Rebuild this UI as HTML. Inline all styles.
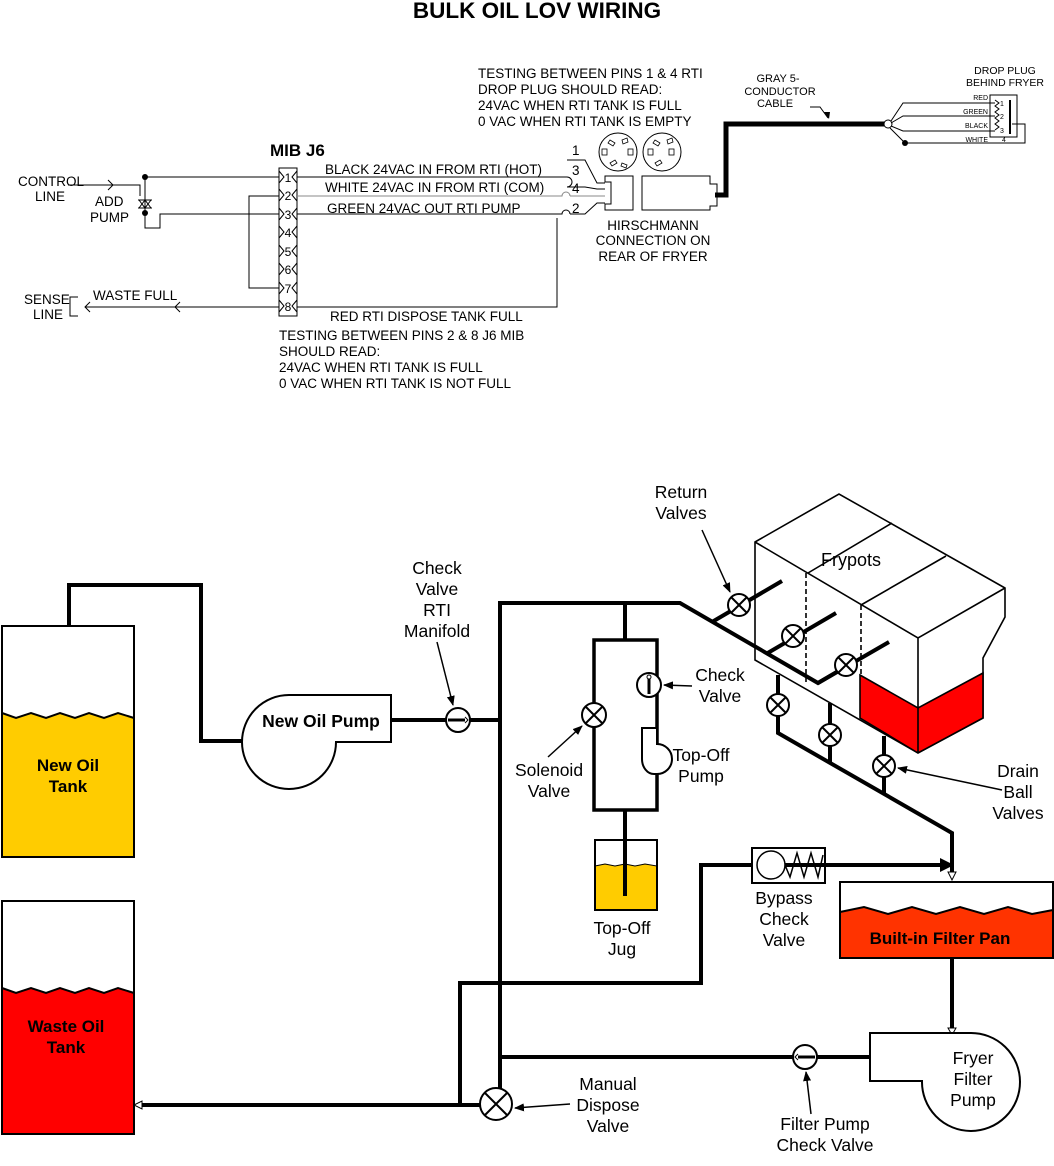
<!DOCTYPE html>
<html><head><meta charset="utf-8"><style>
html,body{margin:0;padding:0;background:#fff;}
svg{display:block;}
text{font-family:"Liberation Sans",Arial,sans-serif;fill:#000;}
.s{font-size:13.5px;}
.m{font-size:17.5px;}
.b{font-weight:bold;}
</style></head><body>
<svg width="1054" height="1166" viewBox="0 0 1054 1166" xmlns="http://www.w3.org/2000/svg">
<defs>
<marker id="ah" markerWidth="10" markerHeight="8" refX="9" refY="4" orient="auto" markerUnits="userSpaceOnUse" viewBox="0 0 10 8"><path d="M0,0 L10,4 L0,8 Z" fill="#000"/></marker>
</defs>
<text x="537" y="18" text-anchor="middle" class="b" font-size="22.5">BULK OIL LOV WIRING</text>

<g class="s">
<text x="478" y="78">TESTING BETWEEN PINS 1 &amp; 4 RTI</text>
<text x="478" y="94">DROP PLUG SHOULD READ:</text>
<text x="478" y="110">24VAC WHEN RTI TANK IS FULL</text>
<text x="478" y="126"> 0 VAC WHEN RTI TANK IS EMPTY</text>
<text x="279" y="340">TESTING BETWEEN PINS 2 &amp; 8 J6 MIB</text>
<text x="279" y="356">SHOULD READ:</text>
<text x="279" y="372">24VAC WHEN RTI TANK IS FULL</text>
<text x="279" y="388">0 VAC WHEN RTI TANK IS NOT FULL</text>
<text x="18" y="186">CONTROL</text><text x="35" y="201">LINE</text>
<text x="95" y="206">ADD</text><text x="90" y="222">PUMP</text>
<text x="24" y="304">SENSE</text><text x="33" y="319">LINE</text>
<text x="93" y="300">WASTE FULL</text>
<text x="325" y="174">BLACK  24VAC IN FROM RTI (HOT)</text>
<text x="325" y="192">WHITE  24VAC IN FROM RTI (COM)</text>
<text x="327" y="213">GREEN  24VAC OUT RTI PUMP</text>
<text x="330" y="321">RED  RTI DISPOSE TANK FULL</text>
<text x="653" y="230" text-anchor="middle">HIRSCHMANN</text>
<text x="653" y="245" text-anchor="middle">CONNECTION ON</text>
<text x="653" y="261" text-anchor="middle">REAR OF FRYER</text>
<text x="572" y="155">1</text><text x="572" y="175">3</text><text x="572" y="193">4</text><text x="572" y="213">2</text>
</g>
<text x="270" y="156" class="b" font-size="17">MIB J6</text>
<text x="778" y="82" font-size="11" text-anchor="middle">GRAY 5-</text>
<text x="780" y="95" font-size="11" text-anchor="middle">CONDUCTOR</text>
<text x="775" y="107" font-size="11" text-anchor="middle">CABLE</text>
<text x="1005" y="74" font-size="10.5" text-anchor="middle">DROP PLUG</text>
<text x="1005" y="86" font-size="10.5" text-anchor="middle">BEHIND FRYER</text>
<g font-size="7"><text x="988" y="100" text-anchor="end">RED</text><text x="988" y="114" text-anchor="end">GREEN</text><text x="988" y="128" text-anchor="end">BLACK</text><text x="988" y="142" text-anchor="end">WHITE</text><text x="1002" y="142">4</text></g>

<g fill="none" stroke="#000" stroke-width="1">
<rect x="279" y="168" width="18" height="148"/>
<path d="M279,171 l5,6 l-5,6 M279,189 l5,6 l-5,6 M279,208 l5,6 l-5,6 M279,226 l5,6 l-5,6 M279,245 l5,6 l-5,6 M279,263 l5,6 l-5,6 M279,282 l5,6 l-5,6 M279,300 l5,6 l-5,6"/>
<path d="M297,171 l-5,6 l5,6 M297,189 l-5,6 l5,6 M297,208 l-5,6 l5,6 M297,226 l-5,6 l5,6 M297,245 l-5,6 l5,6 M297,263 l-5,6 l5,6 M297,282 l-5,6 l5,6 M297,300 l-5,6 l5,6"/>
<g stroke="none" fill="#000"><text x="288" y="182" text-anchor="middle" font-size="12">1</text><text x="288" y="200" text-anchor="middle" font-size="12">2</text><text x="288" y="219" text-anchor="middle" font-size="12">3</text><text x="288" y="237" text-anchor="middle" font-size="12">4</text><text x="288" y="256" text-anchor="middle" font-size="12">5</text><text x="288" y="274" text-anchor="middle" font-size="12">6</text><text x="288" y="293" text-anchor="middle" font-size="12">7</text><text x="288" y="311" text-anchor="middle" font-size="12">8</text></g>
<path d="M145,177 H279"/>
<path d="M68,185 H140 V196"/>
<path d="M108,180 l5,5 l-5,5"/>
<path d="M145,177 V228 H160 V214 H279"/>
<path d="M138,200 h14 M138,208 h14 M139,200 l6,8 l6,-8 M139,208 l6,-8 l6,8"/>
<path d="M279,196 H249 V288 H279"/>
<path d="M85,307 H279 M90,302 l-5,5 l5,5 M180,302 l-5,5 l5,5"/>
<path d="M78,297 H70 V316 H78"/>
<path d="M297,177 H567"/>
<path d="M297,196 H562 a4,4 0 0 1 8,0" stroke="#888"/>
<path d="M297,214 H562 a4,4 0 0 1 8,0"/>
<path d="M297,307 H557 V218"/>
<path d="M567,160 H585 L597,183 H605"/>
<path d="M567,177 a5,5 0 0 1 0,10 M567,187 H585 L597,189 H605"/>
<path d="M570,196 H605" stroke="#888"/>
<path d="M570,214 H585 L597,203 H605"/>
<path d="M605,176 H633 V210 H605 V204 H611 V182 H605 Z"/>
<path d="M642,176 H710 V184 H717 V206 H710 V210 H642 Z"/>
<circle cx="618" cy="152" r="19"/><circle cx="662" cy="152" r="19"/>
<g stroke-width="0.8"><rect x="602" y="149" width="5" height="6"/><rect x="628" y="149" width="5" height="6"/><rect x="648" y="149" width="5" height="6"/><rect x="669" y="149" width="5" height="6"/>
<path d="M610,140 l5,3 l-2,3 l-5,-3z M622,140 l5,-2 l1,4 l-5,2z M610,163 l5,-3 l2,3 l-5,3z M622,163 l5,2 l-1,3 l-5,-2z M655,140 l5,3 l-2,3 l-5,-3z M667,140 l5,-2 l1,4 l-5,2z M655,163 l5,-3 l2,3 l-5,3z"/></g>
<path d="M715,195 H726 V124 H887" stroke-width="5"/>
<path d="M810,107 H820 L828,118"/>
<circle cx="888" cy="124" r="4" fill="#fff"/>
<path d="M891,121 L903,103 H995 M891,123 L903,116 H995 M891,126 L903,131 H995 M890,128 L905,143 H1025 V124 H1012"/>
<rect x="990" y="95" width="27" height="42"/>
<path d="M995,100 l4,3 l-4,3 l4,3 l-4,3 l4,3 l-4,3 l4,3 l-4,3 l4,3 l-4,3"/>
<path d="M1010,100 V134" stroke-width="2"/>
</g>
<g font-size="7"><text x="1000" y="106">1</text><text x="1000" y="119">2</text><text x="1000" y="133">3</text></g>
<circle cx="145" cy="177" r="3"/><circle cx="145" cy="213" r="3"/><circle cx="905" cy="143" r="3"/>
<path d="M824,112 l5,7 l1,-7z"/>

<rect x="2" y="626" width="132" height="231" fill="#fff"/>
<path d="M2,713 l14,5 l15,-5 l15,5 l14,-5 l15,5 l14,-5 l15,5 l14,-5 l16,5 V857 H2 Z" fill="#ffcc00"/>
<path d="M2,713 l14,5 l15,-5 l15,5 l14,-5 l15,5 l14,-5 l15,5 l14,-5 l16,5" fill="none" stroke="#000" stroke-width="2"/>
<rect x="2" y="626" width="132" height="231" fill="none" stroke="#000" stroke-width="2"/>
<text x="68" y="771" text-anchor="middle" class="b" font-size="17">New Oil</text>
<text x="68" y="792" text-anchor="middle" class="b" font-size="17">Tank</text>
<path d="M2,988 l14,5 l15,-5 l15,5 l14,-5 l15,5 l14,-5 l15,5 l14,-5 l16,5 V1134 H2 Z" fill="#ff0000"/>
<path d="M2,988 l14,5 l15,-5 l15,5 l14,-5 l15,5 l14,-5 l15,5 l14,-5 l16,5" fill="none" stroke="#000" stroke-width="2"/>
<rect x="2" y="901" width="132" height="233" fill="none" stroke="#000" stroke-width="2"/>
<text x="66" y="1032" text-anchor="middle" class="b" font-size="17">Waste Oil</text>
<text x="66" y="1053" text-anchor="middle" class="b" font-size="17">Tank</text>

<g stroke="#000" stroke-width="1.6" fill="#fff">
<path d="M755,542 L839,494 L1005,588 L1005,617 L983,658 L983,718 L918,753 L755,660 Z"/>
<path d="M860,675 L918,708 L983,673 L983,718 L918,753 L860,718 Z" fill="#ff0000"/>
<path d="M755,542 L918,638 L1005,588 M918,638 V753 M892,523 L808,573 M946,556 L861,605" fill="none"/>
<path d="M806,573 V684 M861,605 V675" fill="none" stroke-dasharray="5,3"/>
</g>
<text x="851" y="566" text-anchor="middle" font-size="18">Frypots</text>

<g fill="none" stroke="#000" stroke-width="4">
<path d="M69,626 V585 H201 V741 H242"/>
<path d="M391,720 H500"/>
<path d="M500,1090 V603 H680 L818,683 L852,663"/>
<path d="M712,622 L782,581 M766,654 L836,613 M818,683 L889,642"/>
<path d="M625,603 V640"/>
<rect x="594" y="640" width="63" height="170" stroke-width="3.5"/>
<path d="M625,810 V896"/>
<path d="M778,675 V733 L952,833 V872 M830,703 V763 M884,736 V795"/>
<path d="M460,1104 V983 H701 V865 H940"/>
<path d="M138,1105 H481"/>
<path d="M500,1057 H870"/>
<path d="M952,958 V1028"/>
</g>
<path d="M940,858 L954,865 L940,872 Z"/>
<path d="M948,872 h8 l-4,8z" fill="#fff" stroke="#000"/>
<path d="M948,1028 h8 l-4,7z" fill="#fff" stroke="#000"/>
<path d="M134,1105 l8,-4 v8z" fill="#fff" stroke="#000"/>

<path d="M391,695 L289,695 A47,47 0 1 0 336,742 L391,742 Z" fill="#fff" stroke="#000" stroke-width="2"/>
<text x="321" y="727" text-anchor="middle" class="b" font-size="17.5">New Oil Pump</text>
<circle cx="458" cy="720" r="12" fill="#fff" stroke="#000" stroke-width="2"/>
<path d="M448,720 H466" stroke="#000" stroke-width="3"/><path d="M465,717 l3,3 l-3,3" fill="#fff" stroke="#000"/>

<g fill="#fff" stroke="#000" stroke-width="2">
<g transform="translate(739,605)"><circle r="11"/><path d="M-8,-8 L8,8 M8,-8 L-8,8"/></g>
<g transform="translate(793,636)"><circle r="11"/><path d="M-8,-8 L8,8 M8,-8 L-8,8"/></g>
<g transform="translate(846,665)"><circle r="11"/><path d="M-8,-8 L8,8 M8,-8 L-8,8"/></g>
<g transform="translate(778,705)"><circle r="11"/><path d="M-8,-8 L8,8 M8,-8 L-8,8"/></g>
<g transform="translate(830,735)"><circle r="11"/><path d="M-8,-8 L8,8 M8,-8 L-8,8"/></g>
<g transform="translate(884,766)"><circle r="11"/><path d="M-8,-8 L8,8 M8,-8 L-8,8"/></g>
<g transform="translate(594,715)"><circle r="12"/><path d="M-8,-8 L8,8 M8,-8 L-8,8"/></g>
<g transform="translate(496,1104)"><circle r="16"/><path d="M-11,-11 L11,11 M11,-11 L-11,11"/></g>
</g>
<circle cx="649" cy="685" r="12" fill="#fff" stroke="#000" stroke-width="2"/>
<path d="M649,676 V694" stroke="#000" stroke-width="3"/><circle cx="649" cy="677" r="2" fill="#fff" stroke="#000"/>
<path d="M642,728 H657 V744 A15,15 0 0 1 657,774 H654 A12,15 0 0 1 642,759 Z" fill="#fff" stroke="#000" stroke-width="2"/>
<path d="M595,866 l10,-2 l10,2 l10,-2 l10,2 l10,-2 l12,2 V910 H595 Z" fill="#ffcc00" stroke="#000" stroke-width="1"/>
<rect x="595" y="840" width="62" height="70" fill="none" stroke="#000" stroke-width="2"/>
<path d="M625,840 V896" stroke="#000" stroke-width="4"/>
<rect x="752" y="848" width="73" height="35" fill="#fff" stroke="#000" stroke-width="2"/>
<circle cx="771" cy="865" r="14" fill="none" stroke="#000" stroke-width="1.5"/>
<path d="M785,865 L790,877 L797,853 L804,877 L811,853 L818,877 L823,855" fill="none" stroke="#000" stroke-width="1.5"/>
<path d="M785,865 H825" stroke="#000" stroke-width="4"/>
<path d="M840,912 l24,-5 l24,7 l24,-7 l24,7 l24,-7 l24,7 l24,-7 l24,7 l21,-4 V958 H840 Z" fill="#ff3300"/>
<path d="M840,912 l24,-5 l24,7 l24,-7 l24,7 l24,-7 l24,7 l24,-7 l24,7 l21,-4" fill="none" stroke="#000" stroke-width="2"/>
<rect x="840" y="882" width="213" height="76" fill="none" stroke="#000" stroke-width="2"/>
<text x="940" y="944" text-anchor="middle" class="b" font-size="17">Built-in Filter Pan</text>
<path d="M970,1033 L870,1033 L870,1081 L922,1081 A49,49 0 1 0 970,1033 Z" fill="#fff" stroke="#000" stroke-width="2"/>
<circle cx="805" cy="1057" r="12" fill="#fff" stroke="#000" stroke-width="2"/>
<path d="M797,1057 H815" stroke="#000" stroke-width="3"/><path d="M798,1054 l-3,3 l3,3" fill="#fff" stroke="#000"/>
<path d="M870,1057 H820" stroke="#000" stroke-width="4"/>

<g class="m" text-anchor="middle">
<text x="437" y="574">Check</text><text x="437" y="595">Valve</text><text x="437" y="616">RTI</text><text x="437" y="637">Manifold</text>
<text x="681" y="498">Return</text><text x="681" y="519">Valves</text>
<text x="720" y="681">Check</text><text x="720" y="702">Valve</text>
<text x="549" y="776">Solenoid</text><text x="549" y="797">Valve</text>
<text x="701" y="761">Top-Off</text><text x="701" y="782">Pump</text>
<text x="622" y="934">Top-Off</text><text x="622" y="955">Jug</text>
<text x="784" y="904">Bypass</text><text x="784" y="925">Check</text><text x="784" y="946">Valve</text>
<text x="1018" y="777">Drain</text><text x="1018" y="798">Ball</text><text x="1018" y="819">Valves</text>
<text x="973" y="1064">Fryer</text><text x="973" y="1085">Filter</text><text x="973" y="1106">Pump</text>
<text x="608" y="1090">Manual</text><text x="608" y="1111">Dispose</text><text x="608" y="1132">Valve</text>
<text x="825" y="1130">Filter Pump</text><text x="825" y="1151">Check Valve</text>
</g>
<g stroke="#000" stroke-width="1.5" marker-end="url(#ah)">
<path d="M437,642 L453,705"/>
<path d="M702,530 L730,592"/>
<path d="M692,686 L664,685"/>
<path d="M548,757 L582,726"/>
<path d="M1002,790 L898,768"/>
<path d="M570,1104 L515,1108"/>
<path d="M811,1114 L806,1072"/>
</g>
</svg>
</body></html>
